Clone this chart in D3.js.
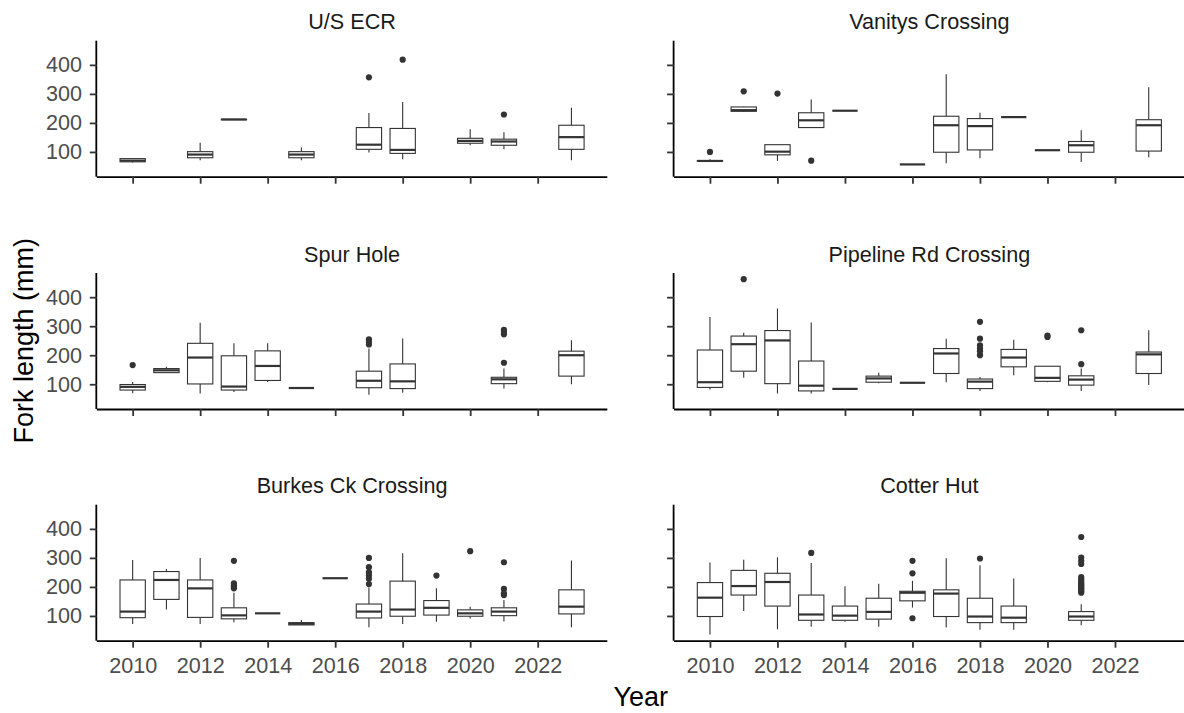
<!DOCTYPE html>
<html>
<head>
<meta charset="utf-8">
<script src="https://cdn.jsdelivr.net/npm/d3@7"></script>
<style>
  html, body { margin: 0; padding: 0; background: #ffffff; }
  svg { display: block; }
  text { font-family: "Liberation Sans", Arial, sans-serif; }
</style>
</head>
<body>
<svg id="chart" width="1184" height="713"></svg>
<script>
// ---------------- DATA ----------------
const sites = ["U/S ECR", "Vanitys Crossing", "Spur Hole", "Pipeline Rd Crossing", "Burkes Ck Crossing", "Cotter Hut"];
const xTicks = [2010, 2012, 2014, 2016, 2018, 2020, 2022];
const yTicks = [100, 200, 300, 400];

// box rows: [year, lowerWhisker, q1, median, q3, upperWhisker]
const boxesUSECR = [
  [2010, 64, 66, 70, 77, 78], [2012, 71, 80, 91, 101, 132], [2013, 211, 211, 212, 212, 212],
  [2015, 71, 80, 91, 101, 115], [2017, 98, 109, 125, 184, 234], [2018, 75, 95, 107, 181, 272],
  [2020, 123, 130, 138, 147, 178], [2021, 109, 123, 136, 144, 168], [2023, 71, 109, 151, 192, 252]
];
const outliersUSECR = [[2017, 357], [2018, 418], [2021, 229]];

const boxesVanitys = [
  [2010, 68, 68, 69, 70, 75], [2011, 238, 240, 244, 255, 256], [2012, 69, 90, 101, 125, 125],
  [2013, 184, 184, 209, 235, 281], [2014, 242, 242, 242, 242, 242], [2016, 57, 57, 57, 57, 57],
  [2017, 61, 99, 192, 223, 368], [2018, 78, 107, 189, 215, 235], [2019, 220, 220, 220, 220, 220],
  [2020, 106, 106, 106, 106, 106], [2021, 65, 99, 123, 136, 175], [2023, 82, 103, 192, 211, 323]
];
const outliersVanitys = [[2010, 100], [2011, 309], [2012, 301], [2013, 70]];

const boxesSpur = [
  [2010, 69, 80, 91, 99, 108], [2011, 140, 140, 148, 154, 160], [2012, 68, 101, 192, 241, 312],
  [2013, 73, 80, 92, 198, 241], [2014, 108, 113, 163, 215, 241], [2015, 87, 87, 87, 87, 87],
  [2017, 64, 88, 112, 145, 223], [2018, 71, 85, 110, 170, 258], [2021, 85, 102, 117, 124, 154],
  [2023, 100, 128, 200, 214, 252]
];
const outliersSpur = [[2010, 166], [2017, 237], [2017, 246], [2017, 255], [2021, 174], [2021, 272], [2021, 281], [2021, 287]];

const boxesPipeline = [
  [2010, 82, 89, 107, 218, 332], [2011, 122, 145, 238, 266, 277], [2012, 68, 102, 251, 285, 361],
  [2013, 68, 77, 95, 180, 313], [2014, 84, 84, 84, 84, 84], [2015, 103, 107, 120, 128, 140],
  [2016, 105, 105, 105, 105, 105], [2017, 107, 137, 206, 223, 257], [2018, 77, 85, 109, 118, 125],
  [2019, 131, 160, 192, 220, 253], [2020, 107, 110, 122, 162, 162], [2021, 77, 97, 116, 129, 154],
  [2023, 97, 137, 203, 211, 286]
];
const outliersPipeline = [[2011, 462], [2018, 200], [2018, 214], [2018, 223], [2018, 234], [2018, 257], [2018, 315],
  [2020, 263], [2020, 268], [2021, 169], [2021, 286]];

const boxesBurkes = [
  [2010, 72, 94, 115, 224, 293], [2011, 122, 157, 224, 253, 262], [2012, 72, 95, 195, 224, 300],
  [2013, 78, 90, 102, 128, 180], [2014, 109, 109, 109, 109, 109], [2015, 69, 69, 73, 77, 86],
  [2016, 230, 230, 230, 230, 230], [2017, 61, 93, 115, 141, 199], [2018, 72, 99, 122, 220, 316],
  [2019, 80, 103, 128, 153, 195], [2020, 91, 99, 109, 121, 132], [2021, 81, 101, 115, 128, 155],
  [2023, 61, 107, 132, 190, 291]
];
const outliersBurkes = [[2013, 195], [2013, 200], [2013, 205], [2013, 212], [2013, 290],
  [2017, 210], [2017, 228], [2017, 239], [2017, 250], [2017, 268], [2017, 300],
  [2019, 239], [2020, 323], [2021, 172], [2021, 178], [2021, 193], [2021, 285]];

const boxesCotter = [
  [2010, 36, 98, 163, 215, 284], [2011, 117, 172, 203, 257, 294], [2012, 54, 134, 217, 247, 302],
  [2013, 63, 85, 105, 172, 282], [2014, 80, 85, 101, 134, 202], [2015, 63, 89, 114, 161, 211],
  [2016, 129, 152, 180, 185, 221], [2017, 60, 98, 177, 190, 299], [2018, 52, 77, 98, 161, 275],
  [2019, 52, 77, 94, 134, 229], [2021, 68, 85, 98, 115, 140]
];
const outliersCotter = [[2013, 317], [2016, 92], [2016, 247], [2016, 290], [2018, 298],
  [2021, 180], [2021, 185], [2021, 190], [2021, 195], [2021, 200], [2021, 205], [2021, 210], [2021, 215],
  [2021, 222], [2021, 228], [2021, 234], [2021, 279], [2021, 290], [2021, 301], [2021, 372]];

const siteBoxes = [boxesUSECR, boxesVanitys, boxesSpur, boxesPipeline, boxesBurkes, boxesCotter];
const siteOutliers = [outliersUSECR, outliersVanitys, outliersSpur, outliersPipeline, outliersBurkes, outliersCotter];

// ---------------- LAYOUT ----------------
const colLeft = [96.8, 674.1];
const rowBottom = [176.7, 409, 640.7];
const panelW = 510.5, panelH = 136;
const boxWidth = 0.75; // in years
const ink = "#333333";
const font = '"Liberation Sans", Arial, sans-serif';

// scales (shared across facets, ggplot-style 5% expansion)
const allYears = siteBoxes.flat().map(d => d[0]);
const xLo = d3.min(allYears) - boxWidth / 2, xHi = d3.max(allYears) + boxWidth / 2;
const xPad = 0.05 * (xHi - xLo);
const x = d3.scaleLinear().domain([xLo - xPad, xHi + xPad]).range([0, panelW]);

const allVals = siteBoxes.flat().flatMap(d => d.slice(1)).concat(siteOutliers.flat().map(d => d[1]));
const yLo = d3.min(allVals), yHi = d3.max(allVals);
const yPad = 0.05 * (yHi - yLo);
const y = d3.scaleLinear().domain([yLo - yPad, yHi + yPad]).range([panelH, 0]);

const svg = d3.select("#chart");
svg.append("rect").attr("width", 1184).attr("height", 713).attr("fill", "#ffffff");

const bw = x(2010 + boxWidth) - x(2010);

sites.forEach((site, i) => {
  const col = i % 2, row = Math.floor(i / 2);
  const g = svg.append("g").attr("transform", `translate(${colLeft[col]},${rowBottom[row] - panelH})`);

  // strip title
  g.append("text")
    .attr("x", panelW / 2).attr("y", -11.5)
    .attr("text-anchor", "middle")
    .attr("font-size", "21.6px").attr("fill", "#1a1a1a")
    .attr("font-family", font)
    .text(site);

  const boxes = siteBoxes[i];
  const bg = g.append("g");
  // whiskers
  bg.selectAll("line.wl").data(boxes).enter().append("line")
    .attr("x1", d => x(d[0])).attr("x2", d => x(d[0]))
    .attr("y1", d => y(d[1])).attr("y2", d => y(d[2]))
    .attr("stroke", ink).attr("stroke-width", 1.1);
  bg.selectAll("line.wh").data(boxes).enter().append("line")
    .attr("x1", d => x(d[0])).attr("x2", d => x(d[0]))
    .attr("y1", d => y(d[4])).attr("y2", d => y(d[5]))
    .attr("stroke", ink).attr("stroke-width", 1.1);
  // boxes
  bg.selectAll("rect.box").data(boxes).enter().append("rect")
    .attr("x", d => x(d[0]) - bw / 2).attr("width", bw)
    .attr("y", d => y(d[4])).attr("height", d => Math.max(0, y(d[2]) - y(d[4])))
    .attr("fill", "#ffffff").attr("stroke", ink).attr("stroke-width", 1.1);
  // medians
  bg.selectAll("line.med").data(boxes).enter().append("line")
    .attr("x1", d => x(d[0]) - bw / 2).attr("x2", d => x(d[0]) + bw / 2)
    .attr("y1", d => y(d[3])).attr("y2", d => y(d[3]))
    .attr("stroke", ink).attr("stroke-width", 2.2);
  // outliers
  bg.selectAll("circle").data(siteOutliers[i]).enter().append("circle")
    .attr("cx", d => x(d[0])).attr("cy", d => y(d[1])).attr("r", 3.1)
    .attr("fill", ink);

  // axes
  const xAxis = d3.axisBottom(x).tickValues(xTicks).tickSizeOuter(0).tickSize(7).tickPadding(9.7)
    .tickFormat(row === 2 ? d3.format("d") : () => "");
  const ya = d3.axisLeft(y).tickValues(yTicks).tickSizeOuter(0).tickSize(7).tickPadding(7.8)
    .tickFormat(col === 0 ? d3.format("d") : () => "");

  const gx = g.append("g").attr("transform", `translate(0,${panelH})`).call(xAxis);
  const gy = g.append("g").call(ya);
  [gx, gy].forEach(ax => {
    ax.select(".domain").attr("stroke", "#000000").attr("stroke-width", 1.8);
    ax.selectAll(".tick line").attr("stroke", ink).attr("stroke-width", 1.8);
    ax.selectAll(".tick text").attr("fill", "#4d4d4d").attr("font-size", "21.6px").attr("font-family", font);
  });
  gx.select(".domain").attr("d", `M0,0.5H${panelW}`);
  gy.select(".domain").attr("d", `M-0.5,${panelH}V0`);
});

// axis titles
svg.append("text")
  .attr("x", (colLeft[0] + colLeft[1] + panelW) / 2).attr("y", 706)
  .attr("text-anchor", "middle").attr("font-size", "27px").attr("fill", "#000000")
  .attr("font-family", font)
  .text("Year");

svg.append("text")
  .attr("transform", `translate(33,${(rowBottom[0] - panelH + rowBottom[2]) / 2}) rotate(-90)`)
  .attr("text-anchor", "middle").attr("font-size", "27px").attr("fill", "#000000")
  .attr("font-family", font)
  .text("Fork length (mm)");
</script>
</body>
</html>
